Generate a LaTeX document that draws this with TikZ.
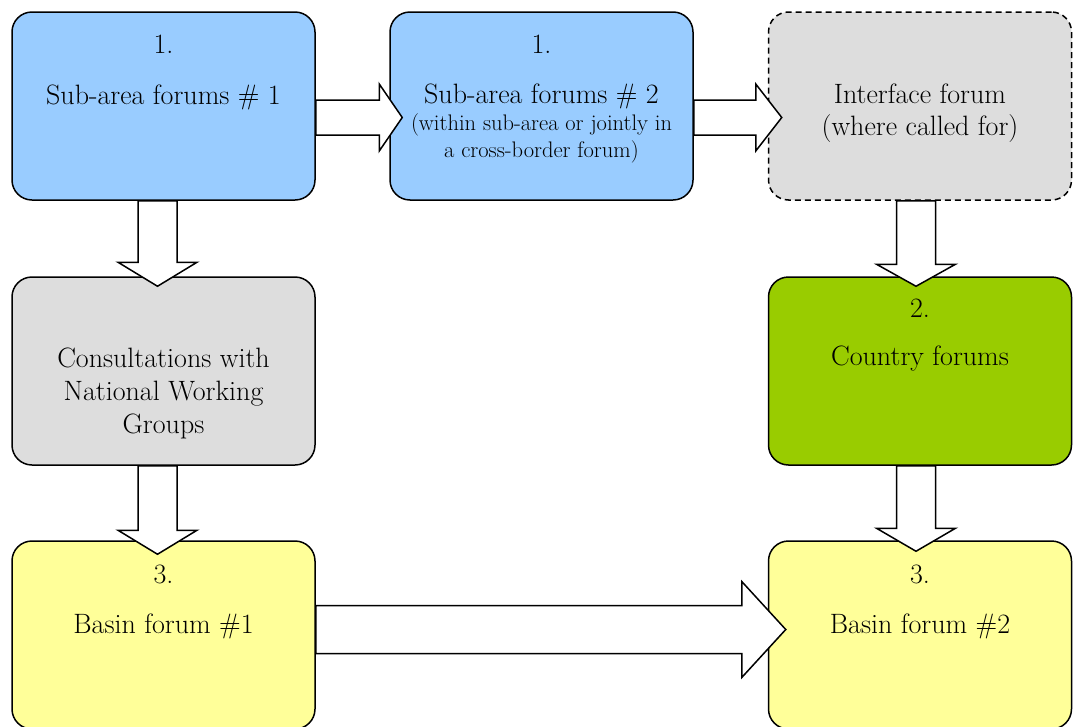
\documentclass[tikz,border=0pt]{standalone}
\usepackage{tikz}
\usetikzlibrary{calc}
\definecolor{forumblue}{RGB}{153,204,255}
\definecolor{forumgrey}{RGB}{221,221,221}
\definecolor{forumgreen}{RGB}{153,204,0}
\definecolor{forumyellow}{RGB}{255,255,153}
\newcommand{\smalltxt}{\fontsize{22.5}{27}\selectfont}

\begin{document}
\begin{tikzpicture}[x=1pt, y=-1pt,
  every node/.style={font=\fontsize{28}{34}\selectfont},
  forum/.style={rectangle, draw=black, line width=1.5pt, rounded corners=20pt,
                minimum width=303pt, minimum height=188pt, inner sep=0pt},
  txt/.style={anchor=north, align=center, inner sep=0pt},
  fatright/.style n args={3}{draw=black, fill=white, line width=1.5pt,
    to path={let \p1=(\tikztostart), \p2=(\tikztotarget) in
      (\x1,{\y1+#1}) -- ({\x2-#3},{\y1+#1}) -- ({\x2-#3},{\y1+#2}) -- (\x2,\y1)
      -- ({\x2-#3},{\y1-#2}) -- ({\x2-#3},{\y1-#1}) -- (\x1,{\y1-#1}) -- cycle}},
  fatdown/.style n args={3}{draw=black, fill=white, line width=1.5pt,
    to path={let \p1=(\tikztostart), \p2=(\tikztotarget) in
      ({\x1-#1},\y1) -- ({\x1-#1},{\y2+#3}) -- ({\x1-#2},{\y2+#3}) -- (\x1,\y2)
      -- ({\x1+#2},{\y2+#3}) -- ({\x1+#1},{\y2+#3}) -- ({\x1+#1},\y1) -- cycle}}
]
  \useasboundingbox (0,0) rectangle (1074,726);

  % boxes
  \node[forum, fill=forumblue] (sub1) at (163.5,106) {};
  \node[forum, fill=forumblue] (sub2) at (541.5,106) {};
  \node[forum, fill=forumgrey, dashed, dash pattern=on 6pt off 4pt] (iface) at (920,106) {};
  \node[forum, fill=forumgrey] (cons) at (163.5,371) {};
  \node[forum, fill=forumgreen] (country) at (920,371) {};
  \node[forum, fill=forumyellow] (basin1) at (163.5,635) {};
  \node[forum, fill=forumyellow] (basin2) at (920,635) {};

  % texts
  \node[txt] (sub1txt) at ([yshift=-24pt]sub1.north) {1.\\[17pt]Sub-area forums \# 1};
  \node[txt] (sub2txt) at ([yshift=-24pt]sub2.north)
    {1.\\[16pt]Sub-area forums \# 2\\[-7pt]{\smalltxt (within sub-area or jointly in}\\[-7pt]{\smalltxt a cross-border forum)}};
  \node[txt] (ifacetxt) at ([yshift=-72pt]iface.north) {Interface forum\\[-2pt](where called for)};
  \node[txt] (constxt) at ([yshift=-71pt]cons.north) {Consultations with\\[-1pt]National Working\\[-1pt]Groups};
  \node[txt] (countrytxt) at ([yshift=-23pt]country.north) {2.\\[14pt]Country forums};
  \node[txt] (basin1txt) at ([yshift=-25pt]basin1.north) {3.\\[16pt]Basin forum \#1};
  \node[txt] (basin2txt) at ([yshift=-25pt]basin2.north) {3.\\[16pt]Basin forum \#2};

  % block arrows
  \draw[fatright={17.5pt}{33.5pt}{23pt}] ([yshift=-11.5pt]sub1.east) to ([xshift=13pt,yshift=-11.5pt]sub2.west);
  \draw[fatright={17.5pt}{33.5pt}{26pt}] ([yshift=-11.5pt]sub2.east) to ([xshift=14pt,yshift=-11.5pt]iface.west);
  \draw[fatdown={19.5pt}{39.5pt}{24pt}] ([xshift=-6pt]sub1.south) to ([xshift=-6pt,yshift=-10pt]cons.north);
  \draw[fatdown={19.5pt}{39.5pt}{24pt}] ([xshift=-6pt]cons.south) to ([xshift=-6pt,yshift=-14pt]basin1.north);
  \draw[fatdown={19.5pt}{39.5pt}{22pt}] ([xshift=-4pt]iface.south) to ([xshift=-4pt,yshift=-10pt]country.north);
  \draw[fatdown={19.5pt}{39.5pt}{23pt}] ([xshift=-4pt]country.south) to ([xshift=-4pt,yshift=-11pt]basin2.north);
  \draw[fatright={24pt}{48pt}{44pt}] ([yshift=5.5pt]basin1.east) to ([xshift=18pt,yshift=5.5pt]basin2.west);
\end{tikzpicture}
\end{document}
